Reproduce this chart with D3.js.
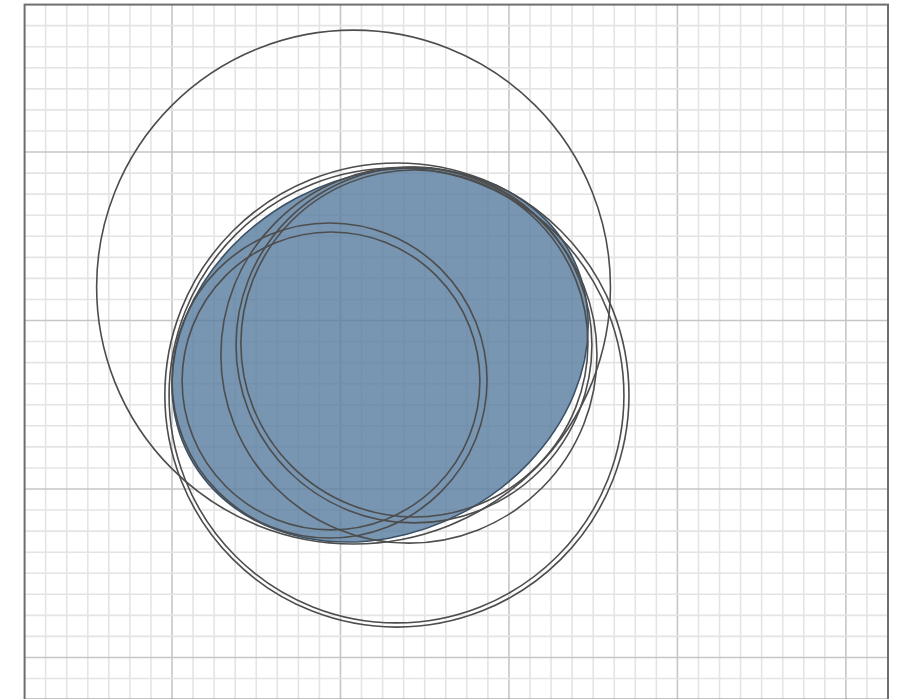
<!DOCTYPE html>
<html>
<head>
<meta charset="utf-8">
<script src="https://cdn.jsdelivr.net/npm/d3@7"></script>
<style>
  body { margin: 0; background: #fff; }
</style>
</head>
<body>
<script>
// DATA ––––––––––––––––––––––––––––––––––––––––––––––––––––––––––––––––
// units are grid cells (one minor square), y grows upward
var circleNames = ["C1", "B1", "B2", "S1", "S2", "M1", "M2", "M3"];
var circleX     = [8.62, 10.68, 10.66, 7.48, 7.55, 11.25, 11.49, 11.51];
var circleY     = [17.59, 12.46, 12.44, 13.15, 13.13, 14.36, 14.84, 14.91];
var circleR     = [12.20, 11.02, 10.80, 7.48, 7.07, 8.93, 8.45, 8.24];

var ellipseCenter = [9.88, 14.36];
var ellipseAxes   = [10.25, 8.45];
var ellipseAngle  = 28; // degrees, counterclockwise

var xDomain = [-7, 34],
    yDomain = [-2, 31],
    majorEvery = 8;

// DRAW ––––––––––––––––––––––––––––––––––––––––––––––––––––––––––––––––
var drawChart = function() {
  let width = 905,
      height = 699;

  let svg = d3.select("body").append("svg")
      .attr("width", width)
      .attr("height", height);

  let x = d3.scaleLinear().domain(xDomain).range([24.6, 888]);
  let y = d3.scaleLinear().domain(yDomain).range([699.6, 4.6]);
  let unit = x(1) - x(0);

  let xs = d3.range(xDomain[0] + 1, xDomain[1]),
      ys = d3.range(yDomain[0] + 1, yDomain[1]);

  let isMajor = function(v) { return v % majorEvery === 0; };

  let grid = svg.append("g");

  grid.selectAll("line.vx")
    .data(xs)
    .enter().append("line")
      .attr("x1", d => x(d)).attr("x2", d => x(d))
      .attr("y1", y(yDomain[1])).attr("y2", y(yDomain[0]))
      .attr("stroke", d => isMajor(d) ? "#c6c6c6" : "#e4e4e4")
      .attr("stroke-width", 1.6);

  grid.selectAll("line.hy")
    .data(ys)
    .enter().append("line")
      .attr("y1", d => y(d)).attr("y2", d => y(d))
      .attr("x1", x(xDomain[0])).attr("x2", x(xDomain[1]))
      .attr("stroke", d => isMajor(d) ? "#c6c6c6" : "#e4e4e4")
      .attr("stroke-width", 1.6);

  // filled ellipse
  svg.append("ellipse")
    .attr("transform", "translate(" + x(ellipseCenter[0]) + "," + y(ellipseCenter[1]) + ") rotate(" + (-ellipseAngle) + ")")
    .attr("rx", ellipseAxes[0] * unit)
    .attr("ry", ellipseAxes[1] * unit)
    .attr("fill", "#567a9e")
    .attr("fill-opacity", 0.8)
    .attr("stroke", "#3b5166")
    .attr("stroke-width", 1.6);

  // outline circles
  svg.selectAll("circle.ring")
    .data(circleNames)
    .enter().append("circle")
      .attr("class", "ring")
      .attr("cx", (d, i) => x(circleX[i]))
      .attr("cy", (d, i) => y(circleY[i]))
      .attr("r", (d, i) => circleR[i] * unit)
      .attr("fill", "none")
      .attr("stroke", "#4d4d4d")
      .attr("stroke-width", 1.6);

  // frame
  svg.append("rect")
    .attr("x", x(xDomain[0]))
    .attr("y", y(yDomain[1]))
    .attr("width", x(xDomain[1]) - x(xDomain[0]))
    .attr("height", y(yDomain[0]) - y(yDomain[1]))
    .attr("fill", "none")
    .attr("stroke", "#6e6e6e")
    .attr("stroke-width", 2);
};

drawChart();
</script>
</body>
</html>
